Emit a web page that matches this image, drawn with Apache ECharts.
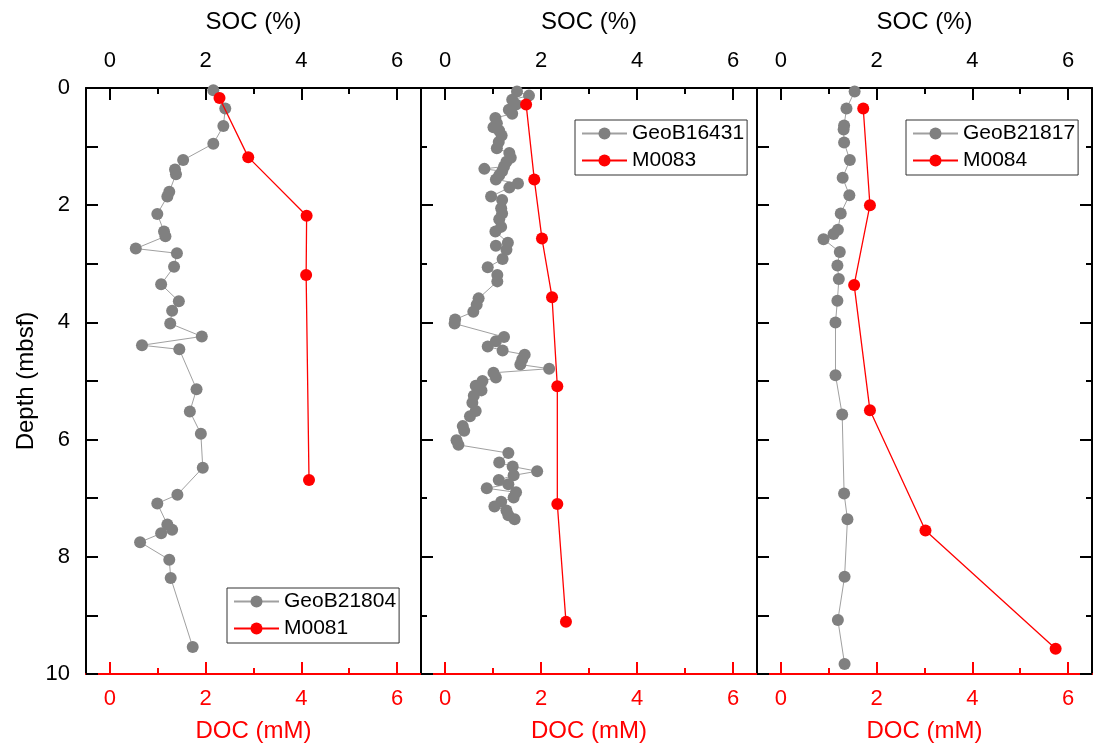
<!DOCTYPE html>
<html>
<head>
<meta charset="utf-8">
<script src="https://cdn.jsdelivr.net/npm/echarts@6/dist/echarts.min.js"></script>
<style>
  html, body { margin: 0; padding: 0; background: #fff; }
  #chart { width: 1093px; height: 749px; }
</style>
</head>
<body>
<div id="chart"></div>
<script>
// core names
var coreSOC = ['GeoB21804', 'GeoB16431', 'GeoB21817'];
var coreDOC = ['M0081', 'M0083', 'M0084'];

// tick labels
var xMajorTicks = [0, 2, 4, 6];
var xMinorTicks = [1, 3, 5];

// panel 1 - GeoB21804 / M0081
var depth1 = [0.04, 0.35, 0.65, 0.95, 1.23, 1.39, 1.47, 1.77, 1.85, 2.15, 2.45, 2.53, 2.74, 2.82, 3.05, 3.35,
  3.64, 3.80, 4.02, 4.24, 4.39, 4.46, 5.14, 5.52, 5.90, 6.48, 6.94, 7.09, 7.45, 7.54, 7.60, 7.75, 8.05, 8.36, 9.54];
var soc1 = [2.16, 2.41, 2.37, 2.16, 1.53, 1.36, 1.38, 1.24, 1.20, 0.99, 1.13, 1.16, 0.54, 1.40, 1.34, 1.07,
  1.44, 1.30, 1.26, 1.92, 0.67, 1.45, 1.81, 1.67, 1.90, 1.94, 1.41, 0.99, 1.20, 1.30, 1.07, 0.63, 1.24, 1.27, 1.73];
var docDepth1 = [0.17, 1.18, 2.18, 3.19, 6.69];
var doc1 = [2.29, 2.89, 4.11, 4.10, 4.16];

// panel 2 - GeoB16431 / M0083
var depth2 = [0.06, 0.13, 0.20, 0.28, 0.37, 0.44, 0.51, 0.60, 0.67, 0.73, 0.81, 0.92, 1.03, 1.11, 1.19, 1.26,
  1.34, 1.38, 1.42, 1.49, 1.56, 1.63, 1.70, 1.85, 1.91, 2.05, 2.14, 2.24, 2.37, 2.45, 2.64, 2.69, 2.76, 2.92,
  3.06, 3.19, 3.30, 3.59, 3.70, 3.82, 3.95, 4.02, 4.25, 4.32, 4.41, 4.48, 4.55, 4.63, 4.72, 4.79, 4.86, 4.94,
  5.00, 5.08, 5.16, 5.25, 5.37, 5.51, 5.60, 5.77, 5.85, 6.01, 6.09, 6.23, 6.39, 6.46, 6.54, 6.61, 6.69, 6.76,
  6.83, 6.90, 6.99, 7.06, 7.14, 7.21, 7.29, 7.36];
var soc2 = [1.50, 1.75, 1.40, 1.48, 1.33, 1.40, 1.05, 1.08, 1.01, 1.13, 1.18, 1.12, 1.08, 1.34, 1.37, 1.28,
  1.23, 0.82, 1.19, 1.13, 1.06, 1.52, 1.34, 0.96, 1.19, 1.17, 1.19, 1.13, 1.17, 1.05, 1.31, 1.06, 1.28, 1.20,
  0.89, 1.09, 1.09, 0.70, 0.66, 0.59, 0.21, 0.20, 1.23, 1.06, 0.89, 1.20, 1.66, 1.61, 1.57, 2.17, 1.01, 1.06,
  0.78, 0.64, 0.76, 0.60, 0.57, 0.64, 0.52, 0.37, 0.40, 0.24, 0.28, 1.32, 1.13, 1.41, 1.92, 1.43, 1.12, 1.32,
  0.87, 1.48, 1.43, 1.17, 1.03, 1.28, 1.32, 1.45];
var docDepth2 = [0.28, 1.56, 2.57, 3.57, 5.09, 7.10, 9.11];
var doc2 = [1.69, 1.86, 2.02, 2.23, 2.34, 2.34, 2.52];

// panel 3 - GeoB21817 / M0084
var depth3 = [0.06, 0.35, 0.64, 0.71, 0.93, 1.23, 1.53, 1.83, 2.14, 2.42, 2.49, 2.58, 2.80, 3.03, 3.26, 3.63,
  4.00, 4.90, 5.57, 6.92, 7.36, 8.34, 9.08, 9.83];
var soc3 = [1.54, 1.37, 1.32, 1.31, 1.32, 1.44, 1.29, 1.43, 1.25, 1.19, 1.10, 0.89, 1.23, 1.18, 1.21, 1.18,
  1.14, 1.14, 1.28, 1.32, 1.39, 1.33, 1.19, 1.33];
var docDepth3 = [0.35, 2.00, 3.36, 5.50, 7.55, 9.57];
var doc3 = [1.72, 1.86, 1.53, 1.86, 3.02, 5.74];

var socData = [[soc1, depth1], [soc2, depth2], [soc3, depth3]];
var docData = [[doc1, docDepth1], [doc2, docDepth2], [doc3, docDepth3]];

var FONT = "'Liberation Sans', Arial, sans-serif";
var RED = '#ff0000';
var GRAY = '#808080';

function pairs(xs, ys) {
  return xs.map(function (v, i) { return [v, ys[i]]; });
}

var grids = [
  {left: 86, top: 88, width: 335, height: 586},
  {left: 421, top: 88, width: 336, height: 586},
  {left: 757, top: 88, width: 335, height: 586}
];

var xAxes = [], yAxes = [], series = [], legends = [];
var legendPos = [
  {left: 227, top: 588},
  {left: 575, top: 120},
  {left: 906, top: 120}
];

for (var g = 0; g < 3; g++) {
  // top SOC axis (major + minor)
  xAxes.push({
    type: 'value', gridIndex: g, position: 'top', min: -0.5, max: 6.5,
    name: 'SOC (%)', nameLocation: 'middle', nameGap: 54,
    nameTextStyle: {fontFamily: FONT, fontSize: 24, color: '#000'},
    axisLine: {show: true, lineStyle: {color: '#000', width: 2}},
    axisTick: {show: true, inside: true, length: 12, lineStyle: {width: 2}, customValues: xMajorTicks},
    axisLabel: {show: true, margin: 16, fontFamily: FONT, fontSize: 22, color: '#000', customValues: xMajorTicks},
    splitLine: {show: false}
  });
  xAxes.push({
    type: 'value', gridIndex: g, position: 'top', min: -0.5, max: 6.5,
    axisLine: {show: false},
    axisTick: {show: true, inside: true, length: 6, lineStyle: {width: 2, color: '#000'}, customValues: xMinorTicks},
    axisLabel: {show: false},
    splitLine: {show: false}
  });
  // bottom DOC axis (major + minor)
  xAxes.push({
    type: 'value', gridIndex: g, position: 'bottom', min: -0.5, max: 6.5,
    name: 'DOC (mM)', nameLocation: 'middle', nameGap: 45,
    nameTextStyle: {fontFamily: FONT, fontSize: 24, color: RED},
    axisLine: {show: true, onZero: false, lineStyle: {color: RED, width: 2}},
    axisTick: {show: true, inside: true, length: 12, lineStyle: {width: 2, color: RED}, customValues: xMajorTicks},
    axisLabel: {show: true, margin: 14, fontFamily: FONT, fontSize: 22, color: RED, customValues: xMajorTicks},
    splitLine: {show: false}
  });
  xAxes.push({
    type: 'value', gridIndex: g, position: 'bottom', min: -0.5, max: 6.5,
    axisLine: {show: false, onZero: false},
    axisTick: {show: true, inside: true, length: 6, lineStyle: {width: 2, color: RED}, customValues: xMinorTicks},
    axisLabel: {show: false},
    splitLine: {show: false}
  });

  // left depth axis
  yAxes.push({
    type: 'value', gridIndex: g, position: 'left', inverse: true, min: 0, max: 10, interval: 2,
    name: g === 0 ? 'Depth (mbsf)' : '', nameLocation: 'middle', nameGap: 48,
    nameTextStyle: {fontFamily: FONT, fontSize: 24, color: '#000'},
    axisLine: {show: true, onZero: false, lineStyle: {color: '#000', width: 2}},
    axisTick: {show: true, inside: true, length: 12, lineStyle: {width: 2}},
    minorTick: {show: true, splitNumber: 2, length: g === 1 ? 6 : 12, lineStyle: {width: 2, color: '#000'}},
    axisLabel: {show: g === 0, margin: 16, fontFamily: FONT, fontSize: 22, color: '#000'},
    splitLine: {show: false},
    minorSplitLine: {show: false}
  });

  series.push({
    name: coreSOC[g], type: 'line', xAxisIndex: g * 4, yAxisIndex: yAxes.length - 1,
    data: pairs(socData[g][0], socData[g][1]),
    symbol: 'circle', symbolSize: 12,
    itemStyle: {color: GRAY},
    lineStyle: {color: '#a0a0a0', width: 1},
    z: 2
  });
  series.push({
    name: coreDOC[g], type: 'line', xAxisIndex: g * 4 + 2, yAxisIndex: yAxes.length - 1,
    data: pairs(docData[g][0], docData[g][1]),
    symbol: 'circle', symbolSize: 12,
    itemStyle: {color: RED},
    lineStyle: {color: RED, width: 1.3},
    z: 3
  });

  legends.push({
    left: legendPos[g].left, top: legendPos[g].top, orient: 'vertical',
    data: [coreSOC[g], coreDOC[g]],
    itemWidth: 45, itemHeight: 15, itemGap: 6,
    padding: [3, 3, 4, 6],
    borderColor: '#333', borderWidth: 1, borderRadius: 0,
    textStyle: {fontFamily: FONT, fontSize: 21, color: '#000'},
    selectedMode: false
  });
}

// right border axis of last panel
yAxes.push({
  type: 'value', gridIndex: 2, position: 'right', inverse: true, min: 0, max: 10, interval: 2,
  axisLine: {show: true, onZero: false, lineStyle: {color: '#000', width: 2}},
  axisTick: {show: true, inside: true, length: 12, lineStyle: {width: 2}},
  minorTick: {show: true, splitNumber: 2, length: 6, lineStyle: {width: 2, color: '#000'}},
  axisLabel: {show: false},
  splitLine: {show: false}
});

var chart = echarts.init(document.getElementById('chart'), null, {renderer: 'canvas'});
chart.setOption({
  backgroundColor: '#fff',
  animation: false,
  grid: grids,
  xAxis: xAxes,
  yAxis: yAxes,
  legend: legends,
  series: series
});
</script>
</body>
</html>
